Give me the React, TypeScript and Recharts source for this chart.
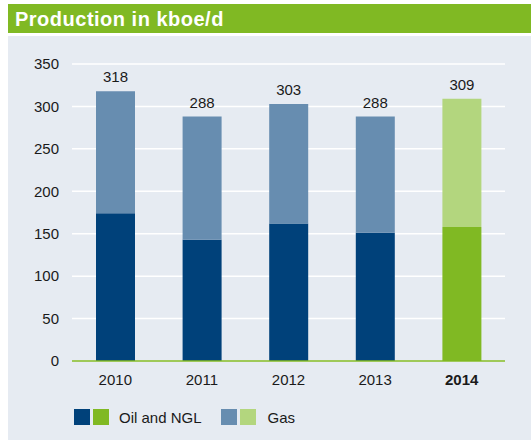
import { BarChart, Bar, XAxis, YAxis, CartesianGrid, Cell, LabelList } from "recharts";

const years = ["2010", "2011", "2012", "2013", "2014"];
const oilNgl = [174, 143, 162, 151, 158];
const gas = [144, 145, 141, 137, 151];
const totals = [318, 288, 303, 288, 309];
const yTicks = [0, 50, 100, 150, 200, 250, 300, 350];

const DARK_BLUE = "#00417a";
const LIGHT_BLUE = "#678db0";
const GREEN = "#80b923";
const LIGHT_GREEN = "#b3d67e";
const PANEL = "#e6ebf2";
const FONT = "'Liberation Sans', Arial, Helvetica, sans-serif";

const data = years.map((year, i) => ({
  year,
  oil: oilNgl[i],
  gas: gas[i],
  total: totals[i],
}));

const highlight = (year: string) => year === "2014";

// eslint-disable-next-line @typescript-eslint/no-explicit-any
function YearTick({ x, y, payload }: any) {
  const bold = highlight(payload.value);
  return (
    <text
      x={x}
      y={y}
      dy="0.71em"
      textAnchor="middle"
      fontSize={15}
      fontFamily={FONT}
      fontWeight={bold ? 700 : 400}
      fill="#1a1a1a"
    >
      {payload.value}
    </text>
  );
}

export default function App() {
  return (
    <div style={{ position: "absolute", left: 8, top: 4, width: 523, height: 436, fontFamily: FONT }}>
      <div
        style={{
          height: 29,
          background: GREEN,
          color: "#fff",
          fontWeight: 700,
          fontSize: 20,
          letterSpacing: 0.5,
          lineHeight: "30px",
          paddingLeft: 7,
          whiteSpace: "nowrap",
        }}
      >
        Production in kboe/d
      </div>
      <div style={{ position: "absolute", top: 32, left: 0, width: 523, height: 404, background: PANEL }}>
        <BarChart
          width={523}
          height={404}
          data={data}
          margin={{ top: 28, right: 26, left: 0, bottom: 49 }}
          barCategoryGap={24}
        >
          <CartesianGrid horizontal vertical={false} stroke="#ffffff" strokeWidth={1.5} />
          <XAxis
            dataKey="year"
            axisLine={{ stroke: GREEN, strokeWidth: 1.5 }}
            tickLine={false}
            tickSize={6}
            tickMargin={7}
            tick={<YearTick />}
            height={30}
          />
          <YAxis
            domain={[0, 350]}
            ticks={yTicks}
            axisLine={false}
            tickLine={false}
            tickSize={6}
            tickMargin={7}
            width={64}
            tick={{ fontSize: 15, fill: "#1a1a1a", fontFamily: FONT }}
          />
          <Bar dataKey="oil" stackId="a" isAnimationActive={false}>
            {data.map((d) => (
              <Cell key={d.year} fill={highlight(d.year) ? GREEN : DARK_BLUE} />
            ))}
          </Bar>
          <Bar dataKey="gas" stackId="a" isAnimationActive={false}>
            {data.map((d) => (
              <Cell key={d.year} fill={highlight(d.year) ? LIGHT_GREEN : LIGHT_BLUE} />
            ))}
            <LabelList
              dataKey="total"
              position="top"
              offset={9}
              style={{ fontSize: 15, fill: "#1a1a1a", fontFamily: FONT }}
            />
          </Bar>
        </BarChart>
        <div style={legendStyle}>
          <span style={{ ...swatch, background: DARK_BLUE }} />
          <span style={{ ...swatch, background: GREEN, marginLeft: 3 }} />
          <span style={{ marginLeft: 10 }}>Oil and NGL</span>
          <span style={{ ...swatch, background: LIGHT_BLUE, marginLeft: 19 }} />
          <span style={{ ...swatch, background: LIGHT_GREEN, marginLeft: 3 }} />
          <span style={{ marginLeft: 12 }}>Gas</span>
        </div>
      </div>
    </div>
  );
}

const legendStyle: React.CSSProperties = {
  position: "absolute",
  left: 66,
  top: 373,
  display: "flex",
  alignItems: "center",
  fontSize: 15,
  color: "#1a1a1a",
  height: 16,
};

const swatch: React.CSSProperties = {
  display: "inline-block",
  width: 16,
  height: 16,
};
